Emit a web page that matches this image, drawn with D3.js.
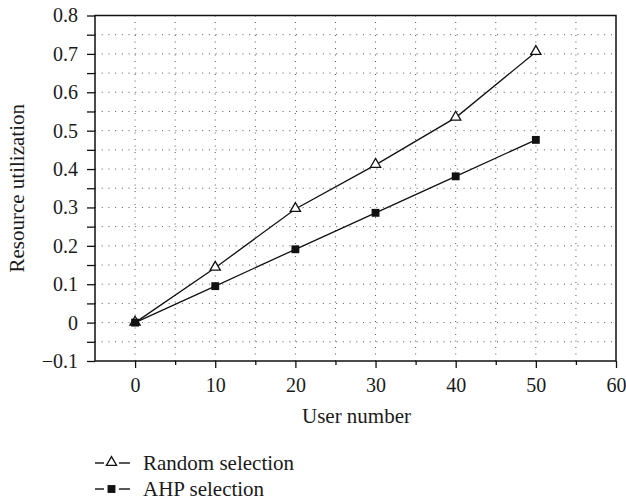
<!DOCTYPE html>
<html>
<head>
<meta charset="UTF-8">
<title>Resource utilization</title>
<style>
  body { margin: 0; background: #fff; }
  svg text { font-family: "Liberation Serif", "DejaVu Serif", serif; fill: #1a1a1a; }
</style>
</head>
<body>
<script src="https://d3js.org/d3.v7.min.js"></script>
<script>
// data
var users = [0, 10, 20, 30, 40, 50]
var randomSel = [0, 0.143, 0.296, 0.411, 0.534, 0.705]
var ahpSel = [0, 0.095, 0.191, 0.286, 0.381, 0.476]
var xTicks = [0, 10, 20, 30, 40, 50, 60]
var yTicks = [-0.1, 0, 0.1, 0.2, 0.3, 0.4, 0.5, 0.6, 0.7, 0.8]
var seriesNames = ["Random selection", "AHP selection"]

var width = 626, height = 501
var margin = { top: 15.5, right: 10, bottom: 140, left: 95 }
var serif = "'Liberation Serif', 'DejaVu Serif', serif"

var svg = d3.select("body").append("svg")
  .attr("width", width)
  .attr("height", height)

var x = d3.scaleLinear().domain([-5, 60]).range([margin.left, width - margin.right])
var y = d3.scaleLinear().domain([-0.1, 0.8]).range([height - margin.bottom, margin.top])

// dotted grid every 5 users / every 0.05
var gx = d3.range(-5, 61, 5), gy = d3.range(-0.1, 0.801, 0.05)
svg.append("g").selectAll("line").data(gx.slice(1, -1)).enter().append("line")
  .attr("x1", d => x(d)).attr("x2", d => x(d))
  .attr("y1", y(0.8)).attr("y2", y(-0.1))
  .attr("stroke", "#555").attr("stroke-dasharray", "1,5.5")
svg.append("g").selectAll("line").data(gy.slice(1, -1)).enter().append("line")
  .attr("x1", x(-5)).attr("x2", x(60))
  .attr("y1", d => y(d)).attr("y2", d => y(d))
  .attr("stroke", "#555").attr("stroke-dasharray", "1,5.7")

// frame
svg.append("rect")
  .attr("x", x(-5)).attr("y", y(0.8))
  .attr("width", x(60) - x(-5)).attr("height", y(-0.1) - y(0.8))
  .attr("fill", "none").attr("stroke", "#111").attr("stroke-width", 1.5)

// axes
var xAxis = svg.append("g").attr("transform", "translate(0," + y(-0.1) + ")")
  .call(d3.axisBottom(x).tickValues(xTicks).tickSize(7).tickPadding(10).tickFormat(d3.format("d")))
var xMinor = svg.append("g").attr("transform", "translate(0," + y(-0.1) + ")")
  .call(d3.axisBottom(x).tickValues(d3.range(5, 60, 10)).tickSize(4).tickFormat(""))
var yAxis = svg.append("g").attr("transform", "translate(" + x(-5) + ",0)")
  .call(d3.axisLeft(y).tickValues(yTicks).tickSize(8).tickPadding(9)
    .tickFormat(d => d < 0 ? "\u2212" + Math.abs(d) : d3.format("")(+d.toFixed(1))))
var yMinor = svg.append("g").attr("transform", "translate(" + x(-5) + ",0)")
  .call(d3.axisLeft(y).tickValues(d3.range(-0.05, 0.8, 0.1)).tickSize(8).tickFormat(""))

svg.selectAll(".domain").remove()
svg.selectAll(".tick line").attr("stroke", "#111").attr("stroke-width", 1.3)
;[xAxis, xMinor, yAxis, yMinor].forEach(g => g.attr("font-family", serif).attr("font-size", 20))
svg.selectAll(".tick text").attr("fill", "#1a1a1a")

// axis titles
svg.append("text").attr("x", (x(-5) + x(60)) / 2 + 1).attr("y", 423)
  .attr("text-anchor", "middle").attr("font-size", 21).text("User number")
svg.append("text").attr("transform", "translate(24," + (y(-0.1) + y(0.8)) / 2 + ") rotate(-90)")
  .attr("text-anchor", "middle").attr("font-size", 21).text("Resource utilization")

// lines
var line = d3.line().x((d, i) => x(users[i])).y(d => y(d))
svg.append("path").datum(randomSel).attr("d", line)
  .attr("fill", "none").attr("stroke", "#111").attr("stroke-width", 1.3)
svg.append("path").datum(ahpSel).attr("d", line)
  .attr("fill", "none").attr("stroke", "#111").attr("stroke-width", 1.3)

var tri = d3.symbol().type(d3.symbolTriangle).size(45)
var sq = d3.symbol().type(d3.symbolSquare).size(62)

svg.append("g").selectAll("path").data(randomSel).enter().append("path")
  .attr("d", tri).attr("transform", (d, i) => "translate(" + x(users[i]) + "," + (y(d) - 0.5) + ")")
  .attr("fill", "#fff").attr("stroke", "#111").attr("stroke-width", 1.3)
svg.append("g").selectAll("path").data(ahpSel).enter().append("path")
  .attr("d", sq).attr("transform", (d, i) => "translate(" + x(users[i]) + "," + y(d) + ")")
  .attr("fill", "#111")

// legend
var legend = svg.append("g")
var rows = [463, 489]
seriesNames.forEach(function (name, i) {
  var g = legend.append("g").attr("transform", "translate(0," + rows[i] + ")")
  g.append("line").attr("x1", 95).attr("x2", 104).attr("stroke", "#111").attr("stroke-width", 1.4)
  g.append("line").attr("x1", 119).attr("x2", 130).attr("stroke", "#111").attr("stroke-width", 1.4)
  if (i === 0) {
    g.append("path").attr("d", tri).attr("transform", "translate(111.5,-0.5)")
      .attr("fill", "#fff").attr("stroke", "#111").attr("stroke-width", 1.3)
  } else {
    g.append("path").attr("d", sq).attr("transform", "translate(111.5,0)").attr("fill", "#111")
  }
  g.append("text").attr("x", 143).attr("y", 7).attr("font-size", 21).text(name)
})
</script>
</body>
</html>
